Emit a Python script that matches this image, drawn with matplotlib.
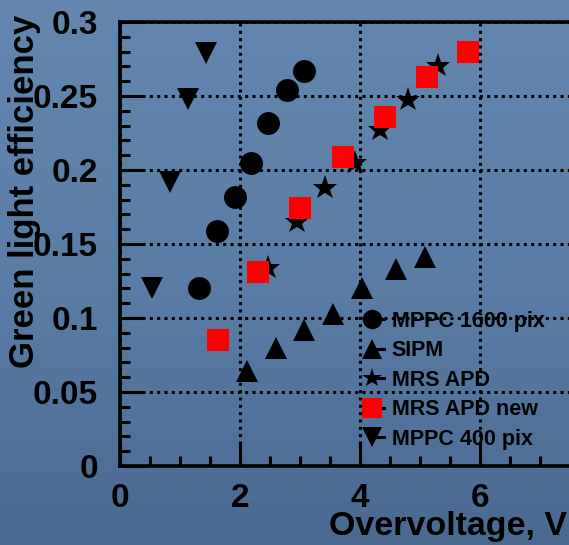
import numpy as np
import matplotlib
matplotlib.use("Agg")
import matplotlib.pyplot as plt
from matplotlib.colors import LinearSegmentedColormap
from matplotlib.lines import Line2D
from matplotlib.legend_handler import HandlerLine2D

plt.rcParams['font.family'] = ['Liberation Sans', 'DejaVu Sans']
plt.rcParams['font.weight'] = 'bold'

# data
mppc1600_x = [1.32, 1.62, 1.91, 2.18, 2.46, 2.78, 3.07]
mppc1600_y = [0.120, 0.159, 0.182, 0.205, 0.232, 0.254, 0.267]

sipm_x = [2.11, 2.60, 3.07, 3.55, 4.03, 4.60, 5.08]
sipm_y = [0.064, 0.080, 0.092, 0.103, 0.120, 0.133, 0.141]

mrs_x = [2.47, 2.95, 3.42, 3.92, 4.33, 4.80, 5.30]
mrs_y = [0.134, 0.165, 0.188, 0.205, 0.227, 0.247, 0.270]

mrsnew_x = [1.64, 2.30, 3.00, 3.72, 4.42, 5.11, 5.80]
mrsnew_y = [0.085, 0.131, 0.174, 0.209, 0.236, 0.263, 0.280]

mppc400_x = [0.54, 0.83, 1.13, 1.43]
mppc400_y = [0.120, 0.192, 0.248, 0.279]

labels = ["MPPC 1600 pix", "SIPM", "MRS APD", "MRS APD new", "MPPC 400 pix"]


class RightLine(HandlerLine2D):
    # legend line only on the right side of the marker
    def create_artists(self, legend, orig_handle, xdescent, ydescent, width, height, fontsize, trans):
        arts = super().create_artists(legend, orig_handle, xdescent, ydescent, width, height, fontsize, trans)
        line = arts[0]
        x = line.get_xdata()
        c = (x[0] + x[-1]) / 2
        line.set_xdata([c, c, x[-1]])
        return arts


W, H = 569, 545
fig = plt.figure(figsize=(W/100, H/100), dpi=100)

# blue slide background
bg = fig.add_axes([0, 0, 1, 1], zorder=-10)
cmap = LinearSegmentedColormap.from_list("slide", ["#4b6a92", "#5a7da6", "#6487b0"])
grad = np.linspace(0, 1, 256).reshape(-1, 1)
bg.imshow(grad, cmap=cmap, aspect='auto', origin='lower', extent=[0, 1, 0, 1])
bg.axis('off')

ax = fig.add_axes([120/W, 1-466/H, 450/W, 444/H])
ax.set_facecolor('none')

ms = 16.5
ax.plot(mppc1600_x, mppc1600_y, 'o', color='black', ms=ms, mew=0, zorder=3)
ax.plot(sipm_x, sipm_y, '^', color='black', ms=ms, mew=0, zorder=3)
ax.plot(mrs_x, mrs_y, '*', color='black', ms=ms+2, mew=0, zorder=3)
ax.plot(mrsnew_x, mrsnew_y, 's', color='red', ms=ms, mew=0, zorder=4)
ax.plot(mppc400_x, mppc400_y, 'v', color='black', ms=ms, mew=0, zorder=3)

ax.set_xlim(0, 7.5)
ax.set_ylim(0, 0.3)
ax.set_xticks([0, 2, 4, 6])
ax.set_xticklabels(["0", "2", "4", "6"])
ax.set_yticks([0, 0.05, 0.1, 0.15, 0.2, 0.25, 0.3])
ax.set_yticklabels(["0", "0.05", "0.1", "0.15", "0.2", "0.25", "0.3"])
ax.set_xticks(np.arange(0, 7.5, 0.5), minor=True)
ax.set_yticks(np.arange(0, 0.3, 0.01), minor=True)

ax.tick_params(which='major', direction='in', length=17, width=2.2, labelsize=24, pad=12)
ax.tick_params(axis='y', which='major', pad=16)
ax.tick_params(which='minor', direction='in', length=7, width=2.2)
ax.tick_params(top=False, right=False, which='both')

ax.grid(True, which='major', color='black', linestyle=(0, (1, 1.4)), linewidth=2.2)
ax.set_axisbelow(True)

for s in ['left', 'bottom', 'top']:
    ax.spines[s].set_linewidth(2.6)
ax.spines['right'].set_visible(False)

fig.text(25/W, 1-15/H, "Green light efficiency", rotation=90, ha='center', va='top', fontsize=25, fontweight='bold')
fig.text(567/W, 10/H, "Overvoltage, V", ha='right', va='baseline', fontsize=24.5, fontweight='bold')

handles = [
    Line2D([], [], color='black', lw=2.2, marker='o', ms=14, mew=0),
    Line2D([], [], color='black', lw=2.2, marker='^', ms=14, mew=0),
    Line2D([], [], color='black', lw=2.2, marker='*', ms=15, mew=0),
    Line2D([], [], color='black', lw=2.2, marker='s', ms=14, mew=0, mfc='red'),
    Line2D([], [], color='black', lw=2.2, marker='v', ms=14, mew=0),
]
leg = ax.legend(handles, labels, loc='upper left', bbox_to_anchor=(360/W, 1-311/H),
                bbox_transform=fig.transFigure, frameon=False, fontsize=15.5,
                handlelength=1.1, handletextpad=0.37, labelspacing=0.39,
                borderpad=0, borderaxespad=0, handler_map={Line2D: RightLine()})
for t in leg.get_texts():
    t.set_fontweight('bold')

fig.savefig("out.png", dpi=100)
